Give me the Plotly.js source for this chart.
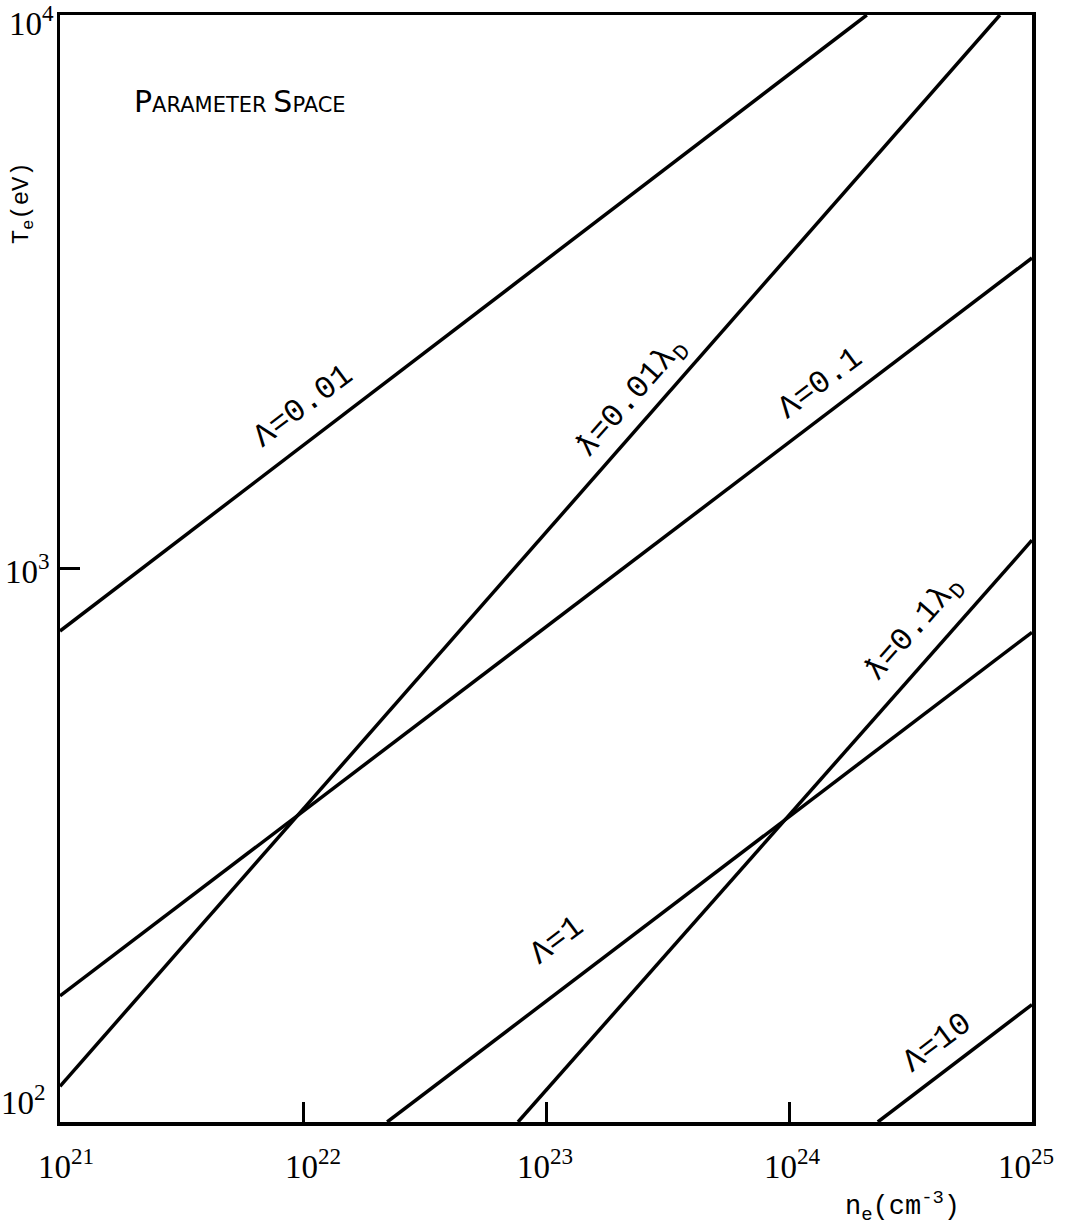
<!DOCTYPE html>
<html>
<head>
<meta charset="utf-8">
<script src="https://cdn.plot.ly/plotly-3.0.1.min.js"></script>
<style>html,body{margin:0;padding:0;background:#fff}</style>
</head>
<body>
<div id="chart" style="width:1069px;height:1230px"></div>
<script>
// ---- data (n_e in cm^-3, T_e in eV) ----
const nLam001 = [1e21, 2.09e24];
const TLam001 = [771, 1e4];
const nLam01 = [1e21, 1e25];
const TLam01 = [169, 3640];
const nLam1 = [2.22e22, 1e25];
const TLam1 = [100, 767];
const nLam10 = [2.32e24, 1e25];
const TLam10 = [100, 163];
const nLb001 = [1e21, 7.38e24];
const TLb001 = [116, 1e4];
const nLb01 = [7.67e22, 1e25];
const TLb01 = [100, 1125];

const xTickVals = [1e21, 1e22, 1e23, 1e24, 1e25];
const xTickText = ['10<sup>21</sup>', '10<sup>22</sup>', '10<sup>23</sup>', '10<sup>24</sup>', '10<sup>25</sup>'];
const yTickVals = [1e4, 1e3, 1e2];
const yTickText = ['10<sup>4</sup>', '10<sup>3</sup>', '10<sup>2</sup>'];

const lineLabels = ['\u039B=0.01', '\u019B=0.01\u03BB<sub>D</sub>', '\u039B=0.1', '\u019B=0.1\u03BB<sub>D</sub>', '\u039B=1', '\u039B=10'];

// ---- drawing ----
const series = [
  [nLam001, TLam001], [nLb001, TLb001], [nLam01, TLam01],
  [nLb01, TLb01], [nLam1, TLam1], [nLam10, TLam10]
];
const traces = series.map(s => ({
  x: s[0], y: s[1], type: 'scatter', mode: 'lines',
  line: {color: '#000', width: 3.5}, hoverinfo: 'skip', showlegend: false
}));

const monoFont = {family: 'Liberation Mono, DejaVu Sans Mono, monospace', size: 32, color: '#000'};
const tickFont = {family: 'Liberation Serif, DejaVu Serif, serif', size: 33, color: '#000'};

const annotations = [];
// line labels (positions in log10 data coordinates)
const labelPos = [
  [22.00, 3.292, -37], [23.354, 3.308, -48.7], [24.128, 3.335, -37],
  [24.519, 2.889, -48.7], [23.045, 2.328, -37], [24.613, 2.143, -37]
];
lineLabels.forEach((t, i) => {
  annotations.push({
    text: t, x: labelPos[i][0], y: labelPos[i][1], xref: 'x', yref: 'y',
    textangle: labelPos[i][2], showarrow: false, font: monoFont,
    xanchor: 'center', yanchor: 'middle'
  });
});
// x tick labels
const xShift = [6, 10, -1, 3, -6];
xTickVals.forEach((v, i) => {
  annotations.push({
    text: xTickText[i], x: Math.log10(v), y: 0, xref: 'x', yref: 'paper',
    yanchor: 'middle', xanchor: 'center', yshift: -42, xshift: xShift[i],
    showarrow: false, font: tickFont
  });
});
// y tick labels
const yShift = [-6, 0, 22];
const yXShift = [-4, -8, -12];
yTickVals.forEach((v, i) => {
  annotations.push({
    text: yTickText[i], x: 0, y: Math.log10(v), xref: 'paper', yref: 'y',
    xanchor: 'right', yanchor: 'middle', xshift: yXShift[i], yshift: yShift[i],
    showarrow: false, font: tickFont
  });
});
// axis titles
annotations.push({
  text: 'n<sub>e</sub>(cm<sup>-3</sup>)', x: 0.867, y: 0, xref: 'paper', yref: 'paper',
  xanchor: 'center', yanchor: 'middle', yshift: -84, showarrow: false,
  font: {family: 'Liberation Mono, monospace', size: 27, color: '#000'}
});
annotations.push({
  text: 'T<sub>e</sub>(eV)', x: 0, y: 0.83, xref: 'paper', yref: 'paper',
  xanchor: 'center', yanchor: 'middle', xshift: -37, textangle: -90, showarrow: false,
  font: {family: 'Liberation Mono, monospace', size: 24, color: '#000'}
});
// in-plot title
annotations.push({
  text: '<span style="font-size:30px">P</span>ARAMETER <span style="font-size:30px">S</span>PACE',
  x: 0.074, y: 0.922, xref: 'paper', yref: 'paper', xanchor: 'left', yanchor: 'middle',
  showarrow: false,
  font: {family: 'DejaVu Sans, sans-serif', size: 21, color: '#000'}
});

const layout = {
  width: 1069, height: 1230,
  margin: {l: 60, r: 37, t: 15, b: 108},
  paper_bgcolor: '#fff', plot_bgcolor: '#fff',
  showlegend: false,
  xaxis: {
    type: 'log', range: [21, 25], showgrid: false, zeroline: false,
    showline: true, mirror: true, linecolor: '#000', linewidth: 3.5,
    tickvals: [1e22, 1e23, 1e24], ticks: 'inside', ticklen: 20, tickwidth: 3,
    tickcolor: '#000', showticklabels: false
  },
  yaxis: {
    type: 'log', range: [2, 4], showgrid: false, zeroline: false,
    showline: true, mirror: true, linecolor: '#000', linewidth: 3.5,
    tickvals: [1e3], ticks: 'inside', ticklen: 20, tickwidth: 3,
    tickcolor: '#000', showticklabels: false
  },
  annotations: annotations
};

Plotly.newPlot('chart', traces, layout, {staticPlot: true, displayModeBar: false});
</script>
</body>
</html>
